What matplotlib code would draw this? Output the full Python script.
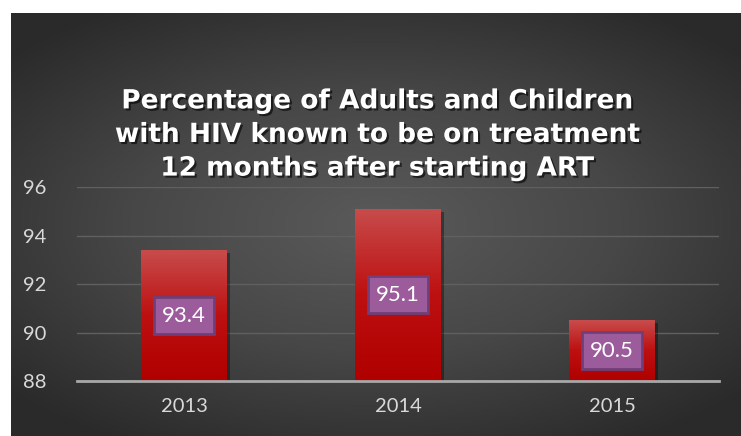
import numpy as np
import matplotlib.pyplot as plt
import matplotlib.patheffects as pe
from matplotlib.colors import LinearSegmentedColormap

# data
years = ['2013', '2014', '2015']
pct = [93.4, 95.1, 90.5]
yticks = [88, 90, 92, 94, 96]
title = 'Percentage of Adults and Children\nwith HIV known to be on treatment\n12 months after starting ART'

W, H = 741, 436
fig = plt.figure(figsize=(W / 100, H / 100), dpi=100)
fig.patch.set_facecolor('white')

# dark radial background panel
bg = fig.add_axes([11 / W, 0, 1 - 11 / W, 1 - 13 / H])
bg.set_axis_off()
yy, xx = np.mgrid[-1:1:300j, -1:1:500j]
r = np.sqrt((xx / 1.0) ** 2 + (yy / 0.9) ** 2)
bg_cmap = LinearSegmentedColormap.from_list('bg', ['#5a5a5a', '#474747', '#2a2a2a'])
bg.imshow(r, cmap=bg_cmap, vmin=0, vmax=1.35, aspect='auto', extent=[0, 1, 0, 1])
bg.set_xlim(0, 1)
bg.set_ylim(0, 1)

# title
fig.text(0.509, 1 - 135 / H, title, ha='center', va='center', color='white',
         fontsize=19, fontweight='bold', family='DejaVu Sans', linespacing=1.38,
         path_effects=[pe.withSimplePatchShadow(offset=(1.5, -1.5), shadow_rgbFace='black', alpha=0.6)])

ax = fig.add_axes([77 / W, 55 / H, 642 / W, 194 / H])
ax.patch.set_alpha(0)
x = np.arange(len(years))
bars = ax.bar(x, [v - 88 for v in pct], bottom=88, width=0.40, color='#b80000', zorder=3,
              path_effects=[pe.withSimplePatchShadow(offset=(2, -2), shadow_rgbFace='black', alpha=0.35)])

bar_cmap = LinearSegmentedColormap.from_list('bar', ['#b00000', '#bd1010', '#c84c4c'])
grad = np.linspace(0, 1, 256).reshape(-1, 1)
for b in bars:
    x0, y0 = b.get_x(), b.get_y()
    im = ax.imshow(grad, cmap=bar_cmap, origin='lower', aspect='auto',
                   extent=[x0, x0 + b.get_width(), y0, y0 + b.get_height()], zorder=4)
    im.set_clip_path(b)

for xi, v in zip(x, pct):
    ax.text(xi, (88 + v) / 2, f'{v}', ha='center', va='center', color='white', fontsize=16,
            family='Lato', zorder=6,
            bbox=dict(boxstyle='square,pad=0.38', facecolor='#9c5c9c', edgecolor='#6e3f78', linewidth=2))

ax.set_xlim(-0.5, 2.5)
ax.set_ylim(88, 96)
ax.set_yticks(yticks)
ax.set_xticks(x)
ax.set_xticklabels(years)
ax.grid(axis='y', color='#606060', linewidth=1, zorder=0)
for s in ['top', 'right', 'left']:
    ax.spines[s].set_visible(False)
ax.spines['bottom'].set_color('#a8a8a8')
ax.spines['bottom'].set_linewidth(2)
ax.spines['bottom'].set_zorder(5)
ax.tick_params(length=0, colors='#d9d9d9', labelsize=14.5)
ax.tick_params(axis='y', pad=22)
ax.tick_params(axis='x', pad=12)
for lab in ax.get_xticklabels() + ax.get_yticklabels():
    lab.set_family('Lato')

fig.savefig('out.png', dpi=100)
